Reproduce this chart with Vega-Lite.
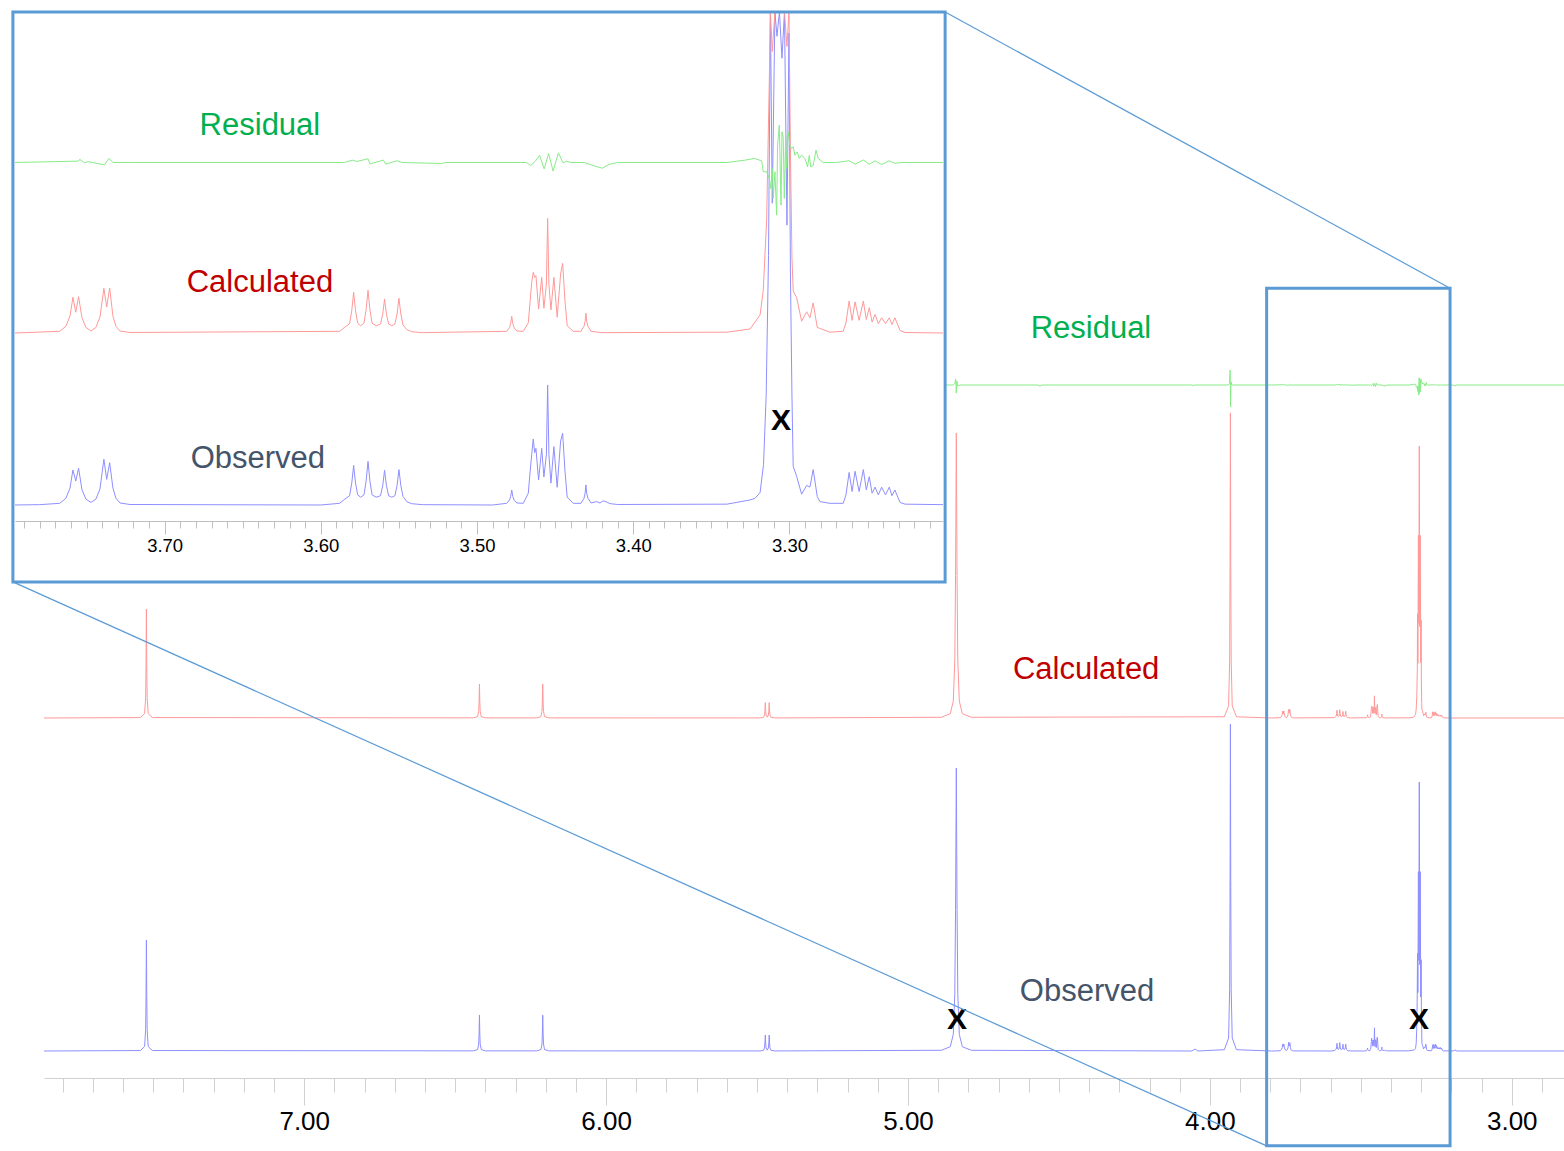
{
"$schema": "https://vega.github.io/schema/vega-lite/v6.json",
"width": 1564,
"height": 1078,
"autosize": {"type": "none"},
"padding": {"left": 0, "top": 0, "right": 0, "bottom": 73},
"background": "white",
"config": {"view": {"stroke": null}, "font": "Liberation Sans", "axis": {"grid": false}},
"datasets": {
"obs": [
{"ppm":7.862,"v":0},
{"ppm":7.5428,"v":0.14},{"ppm":7.5288,"v":1.36},{"ppm":7.5253,"v":6.5},{"ppm":7.524,"v":17.0},{"ppm":7.5228,"v":34.0},{"ppm":7.5216,"v":17.0},{"ppm":7.5203,"v":6.5},{"ppm":7.5168,"v":1.36},{"ppm":7.5028,"v":0.14},
{"ppm":6.4396,"v":0.04},{"ppm":6.4256,"v":0.44},{"ppm":6.4221,"v":2.1},{"ppm":6.4208,"v":5.5},{"ppm":6.4196,"v":11.0},{"ppm":6.4184,"v":5.5},{"ppm":6.4171,"v":2.1},{"ppm":6.4136,"v":0.44},{"ppm":6.3996,"v":0.04},
{"ppm":6.2299,"v":0.04},{"ppm":6.2159,"v":0.44},{"ppm":6.2124,"v":2.1},{"ppm":6.2111,"v":5.5},{"ppm":6.2099,"v":11.0},{"ppm":6.2087,"v":5.5},{"ppm":6.2074,"v":2.1},{"ppm":6.2039,"v":0.44},{"ppm":6.1899,"v":0.04},
{"ppm":5.49,"v":0.02},{"ppm":5.4787,"v":0.2},{"ppm":5.4752,"v":0.93},{"ppm":5.4739,"v":2.45},{"ppm":5.4727,"v":4.9},{"ppm":5.4715,"v":2.45},{"ppm":5.47,"v":0.93},{"ppm":5.4662,"v":0.25},{"ppm":5.4625,"v":0.93},{"ppm":5.461,"v":2.45},{"ppm":5.4598,"v":4.9},{"ppm":5.4586,"v":2.45},{"ppm":5.4573,"v":0.93},{"ppm":5.4538,"v":0.2},{"ppm":5.44,"v":0.02},
{"ppm":4.89,"v":0.22},{"ppm":4.86,"v":1.3},{"ppm":4.85,"v":5.1},{"ppm":4.845,"v":17.4},{"ppm":4.8425,"v":43.4},{"ppm":4.84,"v":86.8},{"ppm":4.8375,"v":43.4},{"ppm":4.835,"v":17.4},{"ppm":4.83,"v":5.1},{"ppm":4.82,"v":1.3},{"ppm":4.79,"v":0.22},
{"ppm":4.06,"v":0},{"ppm":4.049,"v":0.6},{"ppm":4.04,"v":0},
{"ppm":3.952,"v":0.4},{"ppm":3.938,"v":4.0},{"ppm":3.9345,"v":19.1},{"ppm":3.9332,"v":50.2},{"ppm":3.932,"v":100.3},{"ppm":3.9308,"v":50.2},{"ppm":3.9295,"v":19.1},{"ppm":3.926,"v":4.0},{"ppm":3.912,"v":0.4},
{"ppm":3.7958,"v":0},{"ppm":3.78,"v":0.02},{"ppm":3.7672,"v":0.1},{"ppm":3.7632,"v":0.4},{"ppm":3.7606,"v":1.0},{"ppm":3.7587,"v":2.08},{"ppm":3.7569,"v":1.42},{"ppm":3.7551,"v":2.18},{"ppm":3.7529,"v":0.9},{"ppm":3.7504,"v":0.35},{"ppm":3.7472,"v":0.15},{"ppm":3.744,"v":0.35},{"ppm":3.7414,"v":0.95},{"ppm":3.7389,"v":2.71},{"ppm":3.7371,"v":1.52},{"ppm":3.7352,"v":2.51},{"ppm":3.7331,"v":1.0},{"ppm":3.7312,"v":0.4},{"ppm":3.7286,"v":0.12},{"ppm":3.7222,"v":0.03},
{"ppm":3.6,"v":0},{"ppm":3.588,"v":0.1},{"ppm":3.5846,"v":0.35},
{"ppm":3.5816,"v":0.55},{"ppm":3.5802,"v":1.3},{"ppm":3.579,"v":2.35},{"ppm":3.5778,"v":1.3},{"ppm":3.5764,"v":0.6},{"ppm":3.5745,"v":0.46},
{"ppm":3.5724,"v":0.6},{"ppm":3.571,"v":1.43},{"ppm":3.5698,"v":2.59},{"ppm":3.5686,"v":1.43},{"ppm":3.5672,"v":0.6},{"ppm":3.5646,"v":0.46},
{"ppm":3.5618,"v":0.55},{"ppm":3.5604,"v":1.14},{"ppm":3.5592,"v":2.06},{"ppm":3.558,"v":1.14},{"ppm":3.5566,"v":0.55},{"ppm":3.5546,"v":0.46},
{"ppm":3.5526,"v":0.55},{"ppm":3.5512,"v":1.16},{"ppm":3.55,"v":2.1},{"ppm":3.5488,"v":1.16},{"ppm":3.5474,"v":0.5},{"ppm":3.545,"v":0.2},{"ppm":3.542,"v":0.08},{"ppm":3.535,"v":0.02},
{"ppm":3.49,"v":0},{"ppm":3.481,"v":0.1},{"ppm":3.4792,"v":0.3},{"ppm":3.4785,"v":0.5},{"ppm":3.4778,"v":0.89},{"ppm":3.4771,"v":0.5},{"ppm":3.4762,"v":0.28},{"ppm":3.4745,"v":0.12},
{"ppm":3.4704,"v":0.1},{"ppm":3.4672,"v":0.7},{"ppm":3.4661,"v":1.9},{"ppm":3.465,"v":3.0},{"ppm":3.464,"v":3.91},{"ppm":3.4631,"v":3.1},{"ppm":3.4623,"v":3.36},{"ppm":3.4606,"v":1.48},{"ppm":3.4586,"v":3.36},{"ppm":3.4572,"v":1.66},{"ppm":3.4556,"v":3.0},{"ppm":3.4548,"v":7.12},{"ppm":3.454,"v":3.0},{"ppm":3.4527,"v":1.3},{"ppm":3.4508,"v":3.46},{"ppm":3.4487,"v":1.05},{"ppm":3.4465,"v":3.8},{"ppm":3.4452,"v":4.25},{"ppm":3.4437,"v":2.0},{"ppm":3.4423,"v":0.47},{"ppm":3.4384,"v":0.1},
{"ppm":3.4335,"v":0.1},{"ppm":3.4315,"v":0.4},{"ppm":3.4308,"v":0.7},{"ppm":3.4303,"v":1.19},{"ppm":3.4298,"v":0.7},{"ppm":3.429,"v":0.4},{"ppm":3.427,"v":0.12},
{"ppm":3.4234,"v":0.2},{"ppm":3.4213,"v":0.12},{"ppm":3.4192,"v":0.25},{"ppm":3.417,"v":0.18},{"ppm":3.4149,"v":0.08},{"ppm":3.41,"v":0.03},
{"ppm":3.34,"v":0.05},{"ppm":3.3252,"v":0.3},{"ppm":3.322,"v":0.4},{"ppm":3.3188,"v":0.74},{"ppm":3.3166,"v":2.4},{"ppm":3.3149,"v":6.5},{"ppm":3.3134,"v":14.8},
{"ppm":3.3122,"v":30},{"ppm":3.311,"v":17.9},{"ppm":3.3093,"v":55},{"ppm":3.308,"v":27.8},{"ppm":3.3064,"v":82.5},{"ppm":3.3048,"v":26.5},{"ppm":3.3032,"v":55},{"ppm":3.3016,"v":16.6},{"ppm":3.3003,"v":28},
{"ppm":3.2994,"v":14},{"ppm":3.2984,"v":6.5},{"ppm":3.2976,"v":2.3},{"ppm":3.2954,"v":1.7},{"ppm":3.2922,"v":0.64},{"ppm":3.289,"v":1.16},{"ppm":3.2869,"v":1.06},{"ppm":3.2848,"v":2.1},{"ppm":3.2822,"v":0.5},{"ppm":3.2805,"v":0.2},{"ppm":3.2741,"v":0.1},
{"ppm":3.2656,"v":0.1},{"ppm":3.2638,"v":0.6},{"ppm":3.2618,"v":1.93},{"ppm":3.2599,"v":0.8},{"ppm":3.258,"v":2.0},{"ppm":3.2554,"v":0.8},{"ppm":3.2527,"v":2.1},{"ppm":3.2508,"v":0.9},{"ppm":3.2489,"v":1.68},{"ppm":3.2471,"v":0.7},{"ppm":3.2452,"v":1.06},{"ppm":3.2431,"v":0.6},{"ppm":3.241,"v":1.06},{"ppm":3.2385,"v":0.6},{"ppm":3.2361,"v":1.06},{"ppm":3.2344,"v":0.55},{"ppm":3.2325,"v":0.89},{"ppm":3.2292,"v":0.15},{"ppm":3.226,"v":0.05},{"ppm":3.2017,"v":0.02},
{"ppm":3.195,"v":0},{"ppm":3.188,"v":0.3},{"ppm":3.182,"v":0},
{"ppm":2.827,"v":0}
],
"calc": [
{"ppm":7.862,"v":0},
{"ppm":7.5428,"v":0.13},{"ppm":7.5288,"v":1.34},{"ppm":7.5253,"v":6.3},{"ppm":7.524,"v":16.7},{"ppm":7.5228,"v":33.4},{"ppm":7.5216,"v":16.7},{"ppm":7.5203,"v":6.3},{"ppm":7.5168,"v":1.34},{"ppm":7.5028,"v":0.13},
{"ppm":6.4396,"v":0.04},{"ppm":6.4256,"v":0.42},{"ppm":6.4221,"v":2.0},{"ppm":6.4208,"v":5.2},{"ppm":6.4196,"v":10.4},{"ppm":6.4184,"v":5.2},{"ppm":6.4171,"v":2.0},{"ppm":6.4136,"v":0.42},{"ppm":6.3996,"v":0.04},
{"ppm":6.2299,"v":0.04},{"ppm":6.2159,"v":0.42},{"ppm":6.2124,"v":2.0},{"ppm":6.2111,"v":5.2},{"ppm":6.2099,"v":10.4},{"ppm":6.2087,"v":5.2},{"ppm":6.2074,"v":2.0},{"ppm":6.2039,"v":0.42},{"ppm":6.1899,"v":0.04},
{"ppm":5.49,"v":0.02},{"ppm":5.4787,"v":0.19},{"ppm":5.4752,"v":0.89},{"ppm":5.4739,"v":2.35},{"ppm":5.4727,"v":4.7},{"ppm":5.4715,"v":2.35},{"ppm":5.47,"v":0.89},{"ppm":5.4662,"v":0.24},{"ppm":5.4625,"v":0.89},{"ppm":5.461,"v":2.35},{"ppm":5.4598,"v":4.7},{"ppm":5.4586,"v":2.35},{"ppm":5.4573,"v":0.89},{"ppm":5.4538,"v":0.19},{"ppm":5.44,"v":0.02},
{"ppm":4.89,"v":0.22},{"ppm":4.86,"v":1.31},{"ppm":4.85,"v":5.16},{"ppm":4.845,"v":17.5},{"ppm":4.8425,"v":43.7},{"ppm":4.84,"v":87.4},{"ppm":4.8375,"v":43.7},{"ppm":4.835,"v":17.5},{"ppm":4.83,"v":5.16},{"ppm":4.82,"v":1.31},{"ppm":4.79,"v":0.22},
{"ppm":3.952,"v":0.37},{"ppm":3.938,"v":3.74},{"ppm":3.9345,"v":17.8},{"ppm":3.9332,"v":46.8},{"ppm":3.932,"v":93.6},{"ppm":3.9308,"v":46.8},{"ppm":3.9295,"v":17.8},{"ppm":3.926,"v":3.74},{"ppm":3.912,"v":0.37},
{"ppm":3.7958,"v":0},{"ppm":3.7672,"v":0.1},{"ppm":3.7632,"v":0.4},{"ppm":3.7606,"v":1.0},{"ppm":3.7587,"v":2.12},{"ppm":3.7569,"v":1.23},{"ppm":3.7551,"v":2.15},{"ppm":3.7529,"v":0.9},{"ppm":3.7504,"v":0.33},{"ppm":3.7472,"v":0.12},{"ppm":3.744,"v":0.33},{"ppm":3.7414,"v":0.95},{"ppm":3.7389,"v":2.65},{"ppm":3.7371,"v":1.54},{"ppm":3.7352,"v":2.67},{"ppm":3.7331,"v":1.0},{"ppm":3.7312,"v":0.4},{"ppm":3.7286,"v":0.12},{"ppm":3.7222,"v":0.03},
{"ppm":3.588,"v":0.1},{"ppm":3.5846,"v":0.35},
{"ppm":3.5816,"v":0.55},{"ppm":3.5802,"v":1.33},{"ppm":3.579,"v":2.41},{"ppm":3.5778,"v":1.33},{"ppm":3.5764,"v":0.58},{"ppm":3.5745,"v":0.43},
{"ppm":3.5724,"v":0.58},{"ppm":3.571,"v":1.39},{"ppm":3.5698,"v":2.53},{"ppm":3.5686,"v":1.39},{"ppm":3.5672,"v":0.58},{"ppm":3.5646,"v":0.43},
{"ppm":3.5618,"v":0.53},{"ppm":3.5604,"v":1.11},{"ppm":3.5592,"v":2.02},{"ppm":3.558,"v":1.11},{"ppm":3.5566,"v":0.53},{"ppm":3.5546,"v":0.43},
{"ppm":3.5526,"v":0.53},{"ppm":3.5512,"v":1.13},{"ppm":3.55,"v":2.06},{"ppm":3.5488,"v":1.13},{"ppm":3.5474,"v":0.48},{"ppm":3.545,"v":0.2},{"ppm":3.542,"v":0.08},{"ppm":3.535,"v":0.02},
{"ppm":3.481,"v":0.1},{"ppm":3.4792,"v":0.32},{"ppm":3.4785,"v":0.55},{"ppm":3.4778,"v":0.99},{"ppm":3.4771,"v":0.55},{"ppm":3.4762,"v":0.3},{"ppm":3.4745,"v":0.12},
{"ppm":3.4704,"v":0.1},{"ppm":3.4672,"v":0.6},{"ppm":3.4661,"v":1.8},{"ppm":3.465,"v":3.0},{"ppm":3.464,"v":3.6},{"ppm":3.4631,"v":3.3},{"ppm":3.4623,"v":3.4},{"ppm":3.4606,"v":1.42},{"ppm":3.4586,"v":3.3},{"ppm":3.4572,"v":1.47},{"ppm":3.4556,"v":2.9},{"ppm":3.4548,"v":6.8},{"ppm":3.454,"v":2.9},{"ppm":3.4527,"v":1.37},{"ppm":3.4508,"v":3.3},{"ppm":3.4487,"v":0.93},{"ppm":3.4465,"v":3.5},{"ppm":3.4452,"v":4.13},{"ppm":3.4437,"v":1.9},{"ppm":3.4423,"v":0.43},{"ppm":3.4384,"v":0.1},
{"ppm":3.4335,"v":0.1},{"ppm":3.4315,"v":0.4},{"ppm":3.4308,"v":0.7},{"ppm":3.4303,"v":1.17},{"ppm":3.4298,"v":0.7},{"ppm":3.429,"v":0.4},{"ppm":3.427,"v":0.1},{"ppm":3.42,"v":0.02},
{"ppm":3.34,"v":0.05},{"ppm":3.3252,"v":0.24},{"ppm":3.3188,"v":1.07},{"ppm":3.3168,"v":2.5},{"ppm":3.3146,"v":6.7},{"ppm":3.3129,"v":15},
{"ppm":3.3122,"v":32},{"ppm":3.311,"v":16.7},{"ppm":3.3093,"v":56},{"ppm":3.308,"v":29},{"ppm":3.3064,"v":83.4},{"ppm":3.3048,"v":28},{"ppm":3.3032,"v":56},{"ppm":3.3016,"v":17},{"ppm":3.3003,"v":30},
{"ppm":3.2994,"v":11},{"ppm":3.2984,"v":4.5},{"ppm":3.2976,"v":2.5},{"ppm":3.2954,"v":2.1},{"ppm":3.2922,"v":0.7},{"ppm":3.289,"v":1.26},{"ppm":3.2869,"v":0.9},{"ppm":3.2848,"v":1.78},{"ppm":3.2822,"v":0.33},{"ppm":3.2741,"v":0.05},
{"ppm":3.2656,"v":0.1},{"ppm":3.2638,"v":0.6},{"ppm":3.2618,"v":1.9},{"ppm":3.2599,"v":0.75},{"ppm":3.258,"v":1.85},{"ppm":3.2554,"v":0.75},{"ppm":3.2527,"v":1.9},{"ppm":3.2508,"v":0.8},{"ppm":3.2489,"v":1.5},{"ppm":3.2471,"v":0.65},{"ppm":3.2452,"v":1.1},{"ppm":3.2431,"v":0.55},{"ppm":3.241,"v":0.9},{"ppm":3.2385,"v":0.55},{"ppm":3.2361,"v":0.9},{"ppm":3.2344,"v":0.5},{"ppm":3.2325,"v":0.9},{"ppm":3.2292,"v":0.15},{"ppm":3.226,"v":0.03},{"ppm":3.2017,"v":0},
{"ppm":2.827,"v":0}
],
"res": [
{"ppm":7.862,"v":0},
{"ppm":4.85,"v":0},{"ppm":4.845,"v":0.5},{"ppm":4.842,"v":1.8},{"ppm":4.84,"v":-2.5},{"ppm":4.838,"v":1.2},{"ppm":4.835,"v":-0.3},{"ppm":4.828,"v":0},
{"ppm":4.57,"v":0},{"ppm":4.563,"v":-0.3},{"ppm":4.556,"v":0},
{"ppm":4.06,"v":0},{"ppm":4.055,"v":-0.2},{"ppm":4.05,"v":0},
{"ppm":3.94,"v":0},{"ppm":3.935,"v":0.4},{"ppm":3.933,"v":4.6},{"ppm":3.9315,"v":-6.7},{"ppm":3.93,"v":1.0},{"ppm":3.927,"v":0},
{"ppm":3.7958,"v":0},{"ppm":3.7557,"v":0.08},{"ppm":3.7542,"v":0.18},{"ppm":3.7514,"v":-0.02},{"ppm":3.749,"v":0.05},{"ppm":3.7385,"v":-0.14},{"ppm":3.7357,"v":0.24},{"ppm":3.733,"v":0},{"ppm":3.72,"v":0},
{"ppm":3.585,"v":0},{"ppm":3.5799,"v":0.14},{"ppm":3.577,"v":0.06},{"ppm":3.5698,"v":0.22},{"ppm":3.5686,"v":-0.08},{"ppm":3.5599,"v":0.14},{"ppm":3.5585,"v":-0.1},{"ppm":3.5513,"v":0.1},{"ppm":3.548,"v":0},
{"ppm":3.5227,"v":-0.06},{"ppm":3.52,"v":0},
{"ppm":3.472,"v":0},{"ppm":3.4684,"v":0},{"ppm":3.4656,"v":-0.18},{"ppm":3.4627,"v":0.08},{"ppm":3.4599,"v":0.42},{"ppm":3.457,"v":-0.38},{"ppm":3.4542,"v":0.53},{"ppm":3.4513,"v":-0.51},{"ppm":3.4479,"v":0.57},{"ppm":3.445,"v":-0.02},{"ppm":3.4427,"v":0.08},{"ppm":3.4399,"v":0},
{"ppm":3.4313,"v":0},{"ppm":3.4256,"v":-0.18},{"ppm":3.4198,"v":-0.34},{"ppm":3.4156,"v":-0.12},{"ppm":3.41,"v":0},
{"ppm":3.34,"v":0},{"ppm":3.3277,"v":0.15},{"ppm":3.3225,"v":0.24},{"ppm":3.3178,"v":0.1},{"ppm":3.3168,"v":-0.55},{"ppm":3.3146,"v":-0.55},{"ppm":3.3129,"v":-0.95},{"ppm":3.312,"v":-1.54},{"ppm":3.311,"v":-0.36},{"ppm":3.3104,"v":-2.13},{"ppm":3.3093,"v":-0.55},{"ppm":3.3082,"v":-3.12},{"ppm":3.3076,"v":1.03},{"ppm":3.3065,"v":2.22},{"ppm":3.3054,"v":-2.53},{"ppm":3.3048,"v":1.82},{"ppm":3.304,"v":1.5},{"ppm":3.3033,"v":-2.13},{"ppm":3.3024,"v":1.62},{"ppm":3.3018,"v":-0.36},{"ppm":3.3008,"v":1.82},{"ppm":3.2997,"v":1.03},{"ppm":3.2986,"v":0.83},{"ppm":3.2976,"v":0.93},{"ppm":3.2965,"v":0.43},{"ppm":3.295,"v":0.63},{"ppm":3.2937,"v":0.24},{"ppm":3.2922,"v":0.43},{"ppm":3.2901,"v":0.24},{"ppm":3.2884,"v":-0.26},{"ppm":3.2873,"v":0.43},{"ppm":3.2864,"v":-0.26},{"ppm":3.2848,"v":-0.18},{"ppm":3.283,"v":0.73},{"ppm":3.2816,"v":0.24},{"ppm":3.2784,"v":0},
{"ppm":3.27,"v":0},{"ppm":3.2618,"v":0.1},{"ppm":3.258,"v":-0.1},{"ppm":3.2527,"v":0.15},{"ppm":3.2489,"v":-0.1},{"ppm":3.2452,"v":0.1},{"ppm":3.241,"v":-0.12},{"ppm":3.2361,"v":0.1},{"ppm":3.2325,"v":-0.05},{"ppm":3.228,"v":0},{"ppm":3.2017,"v":0},
{"ppm":3.195,"v":0},{"ppm":3.188,"v":-0.3},{"ppm":3.182,"v":0},
{"ppm":2.827,"v":0}
]
},
"layer": [
{
"encoding": {
"x": {"field": "ppm", "type": "quantitative", "scale": {"domain": [7.862, 2.827], "range": [44, 1564], "zero": false, "nice": false},
"axis": {"orient": "bottom", "title": null, "grid": false,
"values": [7.8,7.7,7.6,7.5,7.4,7.3,7.2,7.1,7.0,6.9,6.8,6.7,6.6,6.5,6.4,6.3,6.2,6.1,6.0,5.9,5.8,5.7,5.6,5.5,5.4,5.3,5.2,5.1,5.0,4.9,4.8,4.7,4.6,4.5,4.4,4.3,4.2,4.1,4.0,3.9,3.8,3.7,3.6,3.5,3.4,3.3,3.2,3.1,3.0,2.9],
"labelExpr": "abs(datum.value - round(datum.value)) < 0.001 ? format(datum.value, '.2f') : ''",
"tickSize": {"condition": {"test": "abs(datum.value - round(datum.value)) < 0.001", "value": 27}, "value": 14},
"tickColor": "#d0d0d0", "domainColor": "#d0d0d0", "tickWidth": 1, "domainWidth": 1,
"labelFontSize": 26, "labelFont": "Liberation Sans", "labelColor": "#000000", "labelPadding": 3, "labelOverlap": false, "labelFlush": false}},
"y": {"field": "v", "type": "quantitative", "scale": {"domain": [0, 100], "range": [1051, 725], "zero": false, "nice": false}, "axis": null}
},
"layer": [
{"data": {"name": "obs"}, "mark": {"type": "line", "stroke": "#8f8fff", "strokeWidth": 1}},
{"data": {"values": [{"ppm": 4.407, "v": 18.0, "label": "Observed"}]}, "mark": {"type": "text", "font": "Liberation Sans", "fontSize": 31, "color": "#44546a", "align": "center", "baseline": "middle"}, "encoding": {"text": {"field": "label"}}},
{"data": {"values": [{"ppm": 4.838, "v": 9.6, "label": "X"}, {"ppm": 3.307, "v": 9.6, "label": "X"}]}, "mark": {"type": "text", "font": "Liberation Sans", "fontSize": 30, "fontWeight": "bold", "color": "#000000", "align": "center", "baseline": "middle"}, "encoding": {"text": {"field": "label"}}}
]
},
{
"encoding": {
"x": {"field": "ppm", "type": "quantitative", "scale": {"domain": [7.862, 2.827], "range": [44, 1564], "zero": false, "nice": false}, "axis": null},
"y": {"field": "v", "type": "quantitative", "scale": {"domain": [0, 100], "range": [718, 392], "zero": false, "nice": false}, "axis": null}
},
"layer": [
{"data": {"name": "calc"}, "mark": {"type": "line", "stroke": "#ff9999", "strokeWidth": 1}},
{"data": {"values": [{"ppm": 4.41, "v": 14.6, "label": "Calculated"}]}, "mark": {"type": "text", "font": "Liberation Sans", "fontSize": 31, "color": "#c00000", "align": "center", "baseline": "middle"}, "encoding": {"text": {"field": "label"}}}
]
},
{
"encoding": {
"x": {"field": "ppm", "type": "quantitative", "scale": {"domain": [7.862, 2.827], "range": [44, 1564], "zero": false, "nice": false}, "axis": null},
"y": {"field": "v", "type": "quantitative", "scale": {"domain": [0, 100], "range": [385, 59], "zero": false, "nice": false}, "axis": null}
},
"layer": [
{"data": {"name": "res"}, "mark": {"type": "line", "stroke": "#88ec88", "strokeWidth": 1}},
{"data": {"values": [{"ppm": 4.394, "v": 17.1, "label": "Residual"}]}, "mark": {"type": "text", "font": "Liberation Sans", "fontSize": 31, "color": "#00b050", "align": "center", "baseline": "middle"}, "encoding": {"text": {"field": "label"}}}
]
},
{
"encoding": {
"x": {"field": "ppm", "type": "quantitative", "scale": {"domain": [7.862, 2.827], "range": [44, 1564], "zero": false, "nice": false}, "axis": null},
"y": {"field": "v", "type": "quantitative", "scale": {"domain": [0, 100], "range": [1051, 725], "zero": false, "nice": false}, "axis": null},
"x2": {"field": "ppm2"},
"y2": {"field": "v2"}
},
"layer": [
{"data": {"values": [{"ppm": 3.812, "ppm2": 3.2044, "v": 234.0, "v2": -29.1}]}, "mark": {"type": "rect", "fillOpacity": 0, "stroke": "#5b9bd5", "strokeWidth": 3}},
{"data": {"values": [{"ppm": 7.965, "ppm2": 4.877, "v": 318.7, "v2": 143.9}]}, "mark": {"type": "rect", "fill": "#ffffff", "strokeWidth": 0}},
{"data": {"values": [{"ppm": 4.877, "ppm2": 3.2044, "v": 318.7, "v2": 234.0}, {"ppm": 7.965, "ppm2": 3.812, "v": 143.9, "v2": -29.1}]}, "mark": {"type": "rule", "stroke": "#5b9bd5", "strokeWidth": 1.2}}
]
},
{
"encoding": {
"x": {"field": "ppm", "type": "quantitative", "scale": {"domain": [3.7958, 3.2017], "range": [15, 943], "zero": false, "nice": false},
"axis": {"orient": "bottom", "offset": -557, "zindex": 1, "title": null, "grid": false,
"values": [3.79,3.78,3.77,3.76,3.75,3.74,3.73,3.72,3.71,3.7,3.69,3.68,3.67,3.66,3.65,3.64,3.63,3.62,3.61,3.6,3.59,3.58,3.57,3.56,3.55,3.54,3.53,3.52,3.51,3.5,3.49,3.48,3.47,3.46,3.45,3.44,3.43,3.42,3.41,3.4,3.39,3.38,3.37,3.36,3.35,3.34,3.33,3.32,3.31,3.3,3.29,3.28,3.27,3.26,3.25,3.24,3.23,3.22,3.21],
"labelExpr": "abs(datum.value * 10 - round(datum.value * 10)) < 0.001 ? format(datum.value, '.2f') : ''",
"tickSize": {"condition": {"test": "abs(datum.value * 10 - round(datum.value * 10)) < 0.001", "value": 13}, "value": 7},
"tickColor": "#bfbfbf", "domainColor": "#bfbfbf", "tickWidth": 1, "domainWidth": 1,
"labelFontSize": 18.5, "labelFont": "Liberation Sans", "labelColor": "#000000", "labelPadding": 2, "labelOverlap": false, "labelFlush": false}},
"y": {"field": "v", "type": "quantitative", "scale": {"domain": [-2, 29.24], "range": [538.72, 12], "clamp": true, "zero": false, "nice": false}, "axis": null}
},
"layer": [
{"data": {"name": "obs"}, "transform": [{"filter": "datum.ppm <= 3.7958 && datum.ppm >= 3.2017"}], "mark": {"type": "line", "stroke": "#8f8fff", "strokeWidth": 1}},
{"data": {"values": [{"ppm": 3.6403, "v": 2.73, "label": "Observed"}]}, "mark": {"type": "text", "font": "Liberation Sans", "fontSize": 31, "color": "#44546a", "align": "center", "baseline": "middle"}, "encoding": {"text": {"field": "label"}}},
{"data": {"values": [{"ppm": 3.3054, "v": 4.98, "label": "X"}]}, "mark": {"type": "text", "font": "Liberation Sans", "fontSize": 30, "fontWeight": "bold", "color": "#000000", "align": "center", "baseline": "middle"}, "encoding": {"text": {"field": "label"}}}
]
},
{
"encoding": {
"x": {"field": "ppm", "type": "quantitative", "scale": {"domain": [3.7958, 3.2017], "range": [15, 943], "zero": false, "nice": false}, "axis": null},
"y": {"field": "v", "type": "quantitative", "scale": {"domain": [-2, 19.04], "range": [366.72, 12], "clamp": true, "zero": false, "nice": false}, "axis": null}
},
"layer": [
{"data": {"name": "calc"}, "transform": [{"filter": "datum.ppm <= 3.7958 && datum.ppm >= 3.2017"}], "mark": {"type": "line", "stroke": "#ff9999", "strokeWidth": 1}},
{"data": {"values": [{"ppm": 3.639, "v": 2.95, "label": "Calculated"}]}, "mark": {"type": "text", "font": "Liberation Sans", "fontSize": 31, "color": "#c00000", "align": "center", "baseline": "middle"}, "encoding": {"text": {"field": "label"}}}
]
},
{
"encoding": {
"x": {"field": "ppm", "type": "quantitative", "scale": {"domain": [3.7958, 3.2017], "range": [15, 943], "zero": false, "nice": false}, "axis": null},
"y": {"field": "v", "type": "quantitative", "scale": {"domain": [-4, 8.926], "range": [229.94, 12], "clamp": true, "zero": false, "nice": false}, "axis": null}
},
"layer": [
{"data": {"name": "res"}, "transform": [{"filter": "datum.ppm <= 3.7958 && datum.ppm >= 3.2017"}], "mark": {"type": "line", "stroke": "#88ec88", "strokeWidth": 1}},
{"data": {"values": [{"ppm": 3.639, "v": 2.15, "label": "Residual"}]}, "mark": {"type": "text", "font": "Liberation Sans", "fontSize": 31, "color": "#00b050", "align": "center", "baseline": "middle"}, "encoding": {"text": {"field": "label"}}}
]
},
{
"data": {"values": [{"ppm": 7.965, "ppm2": 4.877, "v": 318.7, "v2": 143.9}]},
"mark": {"type": "rect", "fillOpacity": 0, "stroke": "#5b9bd5", "strokeWidth": 3},
"encoding": {
"x": {"field": "ppm", "type": "quantitative", "scale": {"domain": [7.862, 2.827], "range": [44, 1564], "zero": false, "nice": false}, "axis": null},
"y": {"field": "v", "type": "quantitative", "scale": {"domain": [0, 100], "range": [1051, 725], "zero": false, "nice": false}, "axis": null},
"x2": {"field": "ppm2"},
"y2": {"field": "v2"}
}
}
],
"resolve": {"scale": {"x": "independent", "y": "independent"}, "axis": {"x": "independent", "y": "independent"}}
}
